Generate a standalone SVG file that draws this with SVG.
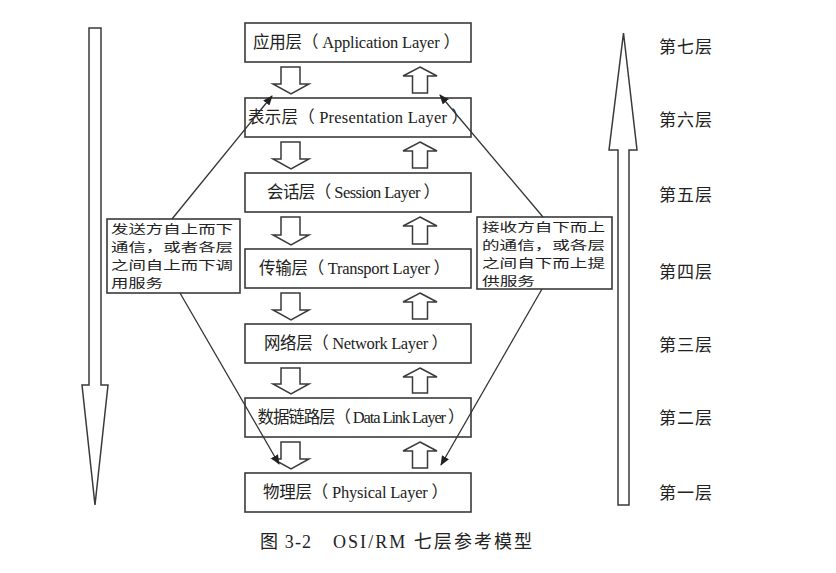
<svg xmlns="http://www.w3.org/2000/svg" width="836" height="573" viewBox="0 0 836 573">
<style>
.bg{fill:#ffffff}
.box{fill:#ffffff;stroke:#3a3a3a;stroke-width:1.6}
.blk{fill:#ffffff;stroke:#3a3a3a;stroke-width:1.5;stroke-linejoin:miter}
.lt{font-family:'Liberation Serif','Noto Sans CJK SC',serif;font-size:16.5px;fill:#222;text-anchor:middle}
.side{font-family:'Liberation Serif','Noto Sans CJK SC',serif;font-size:17px;fill:#222;text-anchor:middle}
.note{font-family:'Noto Sans CJK SC',sans-serif;font-size:12.3px;fill:#222}
.cap{font-family:'Liberation Serif','Noto Sans CJK SC',serif;font-size:18px;fill:#222}
.con{fill:none;stroke:#333;stroke-width:1.3}
</style>
<defs>
<marker id="ah" markerWidth="10" markerHeight="8" refX="9" refY="4" orient="auto" markerUnits="userSpaceOnUse">
<path d="M0,0 L10,4 L0,8 Z" fill="#222"/>
</marker>
</defs>
<rect class="bg" x="0" y="0" width="836" height="573"/>

<g id="big-arrow-down">
<polygon class="blk" points="89,28 101,28 101,385 108,385 95,505 82,385 89,385"/>
</g>
<g id="big-arrow-up">
<polygon class="blk" points="623.5,33 637,150 629,150 629,505 618,505 618,150 609,150"/>
</g>

<g id="layer7">
<rect class="box" x="245" y="23" width="226" height="39"/>
<text class="lt" x="356.5" y="48" textLength="207">应用层（ Application Layer ）</text>
</g>
<g id="layer6">
<rect class="box" x="245" y="98" width="226" height="39"/>
<text class="lt" x="358" y="123" textLength="220">表示层（ Presentation Layer ）</text>
</g>
<g id="layer5">
<rect class="box" x="245" y="173" width="226" height="39"/>
<text class="lt" x="353.5" y="198" textLength="173">会话层（ Session Layer ）</text>
</g>
<g id="layer4">
<rect class="box" x="245" y="249" width="226" height="39"/>
<text class="lt" x="354.5" y="274" textLength="191">传输层（ Transport Layer ）</text>
</g>
<g id="layer3">
<rect class="box" x="245" y="324" width="226" height="39"/>
<text class="lt" x="356" y="349" textLength="184">网络层（ Network Layer ）</text>
</g>
<g id="layer2">
<rect class="box" x="245" y="398" width="226" height="39"/>
<text class="lt" x="361" y="423" textLength="207">数据链路层（ Data Link Layer ）</text>
</g>
<g id="layer1">
<rect class="box" x="245" y="473" width="226" height="39"/>
<text class="lt" x="355.5" y="498" textLength="185">物理层（ Physical Layer ）</text>
</g>

<g id="block-arrows">
<polygon class="blk" points="281,67 300,67 300,84 309,84 291,94 273,84 281,84"/>
<polygon class="blk" points="420,67 437,76 427.5,76 427.5,93 412.5,93 412.5,76 403,76"/>
<polygon class="blk" points="281,142 300,142 300,159 309,159 291,169 273,159 281,159"/>
<polygon class="blk" points="420,142 437,151 427.5,151 427.5,168 412.5,168 412.5,151 403,151"/>
<polygon class="blk" points="281,217 300,217 300,235 309,235 291,245 273,235 281,235"/>
<polygon class="blk" points="420,217 437,226 427.5,226 427.5,244 412.5,244 412.5,226 403,226"/>
<polygon class="blk" points="281,293 300,293 300,310 309,310 291,320 273,310 281,310"/>
<polygon class="blk" points="420,293 437,302 427.5,302 427.5,319 412.5,319 412.5,302 403,302"/>
<polygon class="blk" points="281,368 300,368 300,384 309,384 291,394 273,384 281,384"/>
<polygon class="blk" points="420,368 437,377 427.5,377 427.5,393 412.5,393 412.5,377 403,377"/>
<polygon class="blk" points="281,442 300,442 300,459 309,459 291,469 273,459 281,459"/>
<polygon class="blk" points="420,442 437,451 427.5,451 427.5,468 412.5,468 412.5,451 403,451"/>
</g>

<g id="sender-note">
<rect class="box" x="107" y="219" width="133" height="74"/>
<text class="note" x="111" y="234.3" textLength="122" lengthAdjust="spacingAndGlyphs">发送方自上而下</text>
<text class="note" x="111" y="252.2" textLength="122" lengthAdjust="spacingAndGlyphs">通信，或者各层</text>
<text class="note" x="111" y="270.1" textLength="122" lengthAdjust="spacingAndGlyphs">之间自上而下调</text>
<text class="note" x="111" y="288" textLength="52" lengthAdjust="spacingAndGlyphs">用服务</text>
</g>
<g id="receiver-note">
<rect class="box" x="477" y="217" width="135" height="72"/>
<text class="note" x="482" y="232" textLength="123" lengthAdjust="spacingAndGlyphs">接收方自下而上</text>
<text class="note" x="482" y="249.9" textLength="123" lengthAdjust="spacingAndGlyphs">的通信，或各层</text>
<text class="note" x="482" y="267.8" textLength="123" lengthAdjust="spacingAndGlyphs">之间自下而上提</text>
<text class="note" x="482" y="285.5" textLength="53" lengthAdjust="spacingAndGlyphs">供服务</text>
</g>

<g id="connectors">
<line class="con" x1="172" y1="219" x2="272" y2="96" marker-end="url(#ah)"/>
<line class="con" x1="180" y1="293" x2="279" y2="464" marker-end="url(#ah)"/>
<line class="con" x1="543" y1="217" x2="440" y2="95" marker-end="url(#ah)"/>
<line class="con" x1="542" y1="289" x2="441" y2="465" marker-end="url(#ah)"/>
</g>

<g id="level-labels">
<text class="side" x="685.5" y="53" textLength="53">第七层</text>
<text class="side" x="685.5" y="126" textLength="53">第六层</text>
<text class="side" x="685.5" y="201" textLength="53">第五层</text>
<text class="side" x="685.5" y="278" textLength="53">第四层</text>
<text class="side" x="685.5" y="351" textLength="53">第三层</text>
<text class="side" x="685.5" y="424" textLength="53">第二层</text>
<text class="side" x="685.5" y="499" textLength="53">第一层</text>
</g>

<g id="caption">
<text class="cap" x="260" y="548" textLength="51">图 3-2</text>
<text class="cap" x="333" y="548" textLength="199">OSI/RM 七层参考模型</text>
</g>
</svg>
